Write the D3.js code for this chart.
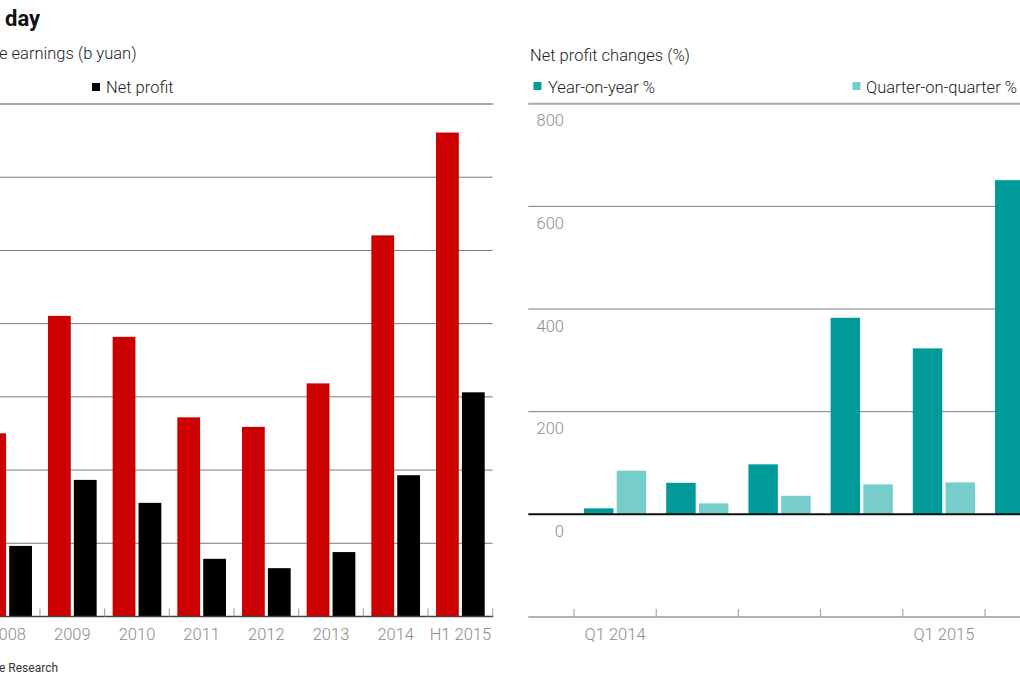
<!DOCTYPE html>
<html>
<head>
<meta charset="utf-8">
<script src="https://cdn.jsdelivr.net/npm/d3@7/dist/d3.min.js"></script>
<style>
  html, body { margin: 0; padding: 0; background: #fff; }
  svg { display: block; font-family: Roboto, "Liberation Sans", sans-serif; }
</style>
</head>
<body>
<svg id="chart" width="1020" height="680"></svg>
<script>
// ---- Data ----
const years = ["2008", "2009", "2010", "2011", "2012", "2013", "2014", "H1 2015"];
const revenue = [125.1, 205.3, 191.0, 136.0, 129.5, 159.2, 260.3, 330.5];
const netProfit = [48.2, 93.3, 77.6, 39.4, 33.0, 44.0, 96.5, 153.1];
const leftTicks = [0, 50, 100, 150, 200, 250, 300, 350];

const quarters = ["Q1 2014", "Q2 2014", "Q3 2014", "Q4 2014", "Q1 2015", "Q2 2015"];
const quarterLabels = ["Q1 2014", "", "", "", "Q1 2015", ""];
const yoy = [11.7, 61.5, 97.4, 382.9, 323.3, 651.0];
const qoq = [85.0, 21.4, 36.2, 58.4, 62.3, 100.0];
const rightTicks = [0, 200, 400, 600, 800];

const svg = d3.select("#chart");
const LABEL = "#8c8c8c";

// ---- Titles ----
svg.append("text").attr("x", 5).attr("y", 26)
  .attr("font-size", 22).attr("font-weight", 700).attr("fill", "#111").text("day");
svg.append("text").attr("x", -1).attr("y", 59)
  .attr("font-size", 16.5).attr("font-weight", 300).attr("fill", "#222").text("e earnings (b yuan)");
svg.append("text").attr("x", 530).attr("y", 61)
  .attr("font-size", 16.5).attr("font-weight", 300).attr("fill", "#222").text("Net profit changes (%)");
svg.append("text").attr("x", -1).attr("y", 672)
  .attr("font-size", 12).attr("fill", "#333").text("e Research");

// ---- Left chart ----
const xL = d3.scaleBand().domain(years).range([-24.7, 492.7]).paddingInner(0).paddingOuter(0);
const yL = d3.scaleLinear().domain([0, 350]).range([616.5, 104]);
const inner = d3.scaleBand().domain(["rev", "np"]).range([8, xL.bandwidth() - 8]).paddingInner(0.12);

const gL = svg.append("g");
gL.selectAll("line.grid").data(leftTicks.filter(t => t > 0 && t < 350)).join("line")
  .attr("x1", 0).attr("x2", 492.7)
  .attr("y1", d => yL(d)).attr("y2", d => yL(d))
  .attr("stroke", "#7a7a7a").attr("stroke-width", 1);
gL.append("line").attr("x1", 0).attr("x2", 493.3)
  .attr("y1", yL(350)).attr("y2", yL(350))
  .attr("stroke", "#a8a8a8").attr("stroke-width", 2);

gL.selectAll("rect.rev").data(years).join("rect")
  .attr("x", (d) => xL(d) + inner("rev"))
  .attr("width", inner.bandwidth())
  .attr("y", (d, i) => yL(revenue[i]))
  .attr("height", (d, i) => yL(0) - yL(revenue[i]))
  .attr("fill", "#cc0000");
gL.selectAll("rect.np").data(years).join("rect")
  .attr("x", (d) => xL(d) + inner("np"))
  .attr("width", inner.bandwidth())
  .attr("y", (d, i) => yL(netProfit[i]))
  .attr("height", (d, i) => yL(0) - yL(netProfit[i]))
  .attr("fill", "#000");

const axL = d3.axisBottom(xL).tickSize(0).tickPadding(0);
const gAxL = gL.append("g").attr("transform", `translate(0,${yL(0)})`).call(axL);
gAxL.select(".domain").remove();
gAxL.selectAll("text").attr("font-size", 16.5).attr("font-weight", 300).attr("fill", LABEL)
  .attr("font-family", "Roboto, sans-serif").attr("dy", 0).attr("y", 23);
gL.append("line").attr("x1", -30).attr("x2", 493.3)
  .attr("y1", yL(0)).attr("y2", yL(0)).attr("stroke", "#444").attr("stroke-width", 1.5);
gL.selectAll("line.btick").data(years.slice(1).concat(["__end"])).join("line")
  .attr("x1", d => d === "__end" ? 492.7 : xL(d))
  .attr("x2", d => d === "__end" ? 492.7 : xL(d))
  .attr("y1", yL(0)).attr("y2", yL(0) - 8)
  .attr("stroke", "#999").attr("stroke-width", 1);

gL.append("rect").attr("x", 92).attr("y", 83).attr("width", 8).attr("height", 8).attr("fill", "#000");
gL.append("text").attr("x", 106).attr("y", 92.5).attr("font-size", 16.5).attr("font-weight", 300)
  .attr("fill", "#222").text("Net profit");

// ---- Right chart ----
const bw = 82.2;
const xR = d3.scaleBand().domain(quarters).range([574, 574 + bw * quarters.length]);
const yR = d3.scaleLinear().domain([-200, 800]).range([617, 103.7]);
const innerR = d3.scaleBand().domain(["yoy", "qoq"]).range([10, bw - 10]).paddingInner(0.1);

const gR = svg.append("g");
gR.selectAll("line.grid").data([200, 400, 600]).join("line")
  .attr("x1", 528.3).attr("x2", 1020)
  .attr("y1", d => yR(d)).attr("y2", d => yR(d))
  .attr("stroke", "#7a7a7a").attr("stroke-width", 1);
gR.append("line").attr("x1", 528.3).attr("x2", 1020)
  .attr("y1", yR(800)).attr("y2", yR(800))
  .attr("stroke", "#a8a8a8").attr("stroke-width", 2);

const ayR = d3.axisLeft(yR).tickValues(rightTicks).tickSize(0).tickPadding(0);
const gAyR = gR.append("g").attr("transform", "translate(564,0)").call(ayR);
gAyR.select(".domain").remove();
gAyR.selectAll("text").attr("font-size", 16.5).attr("font-weight", 300).attr("fill", LABEL)
  .attr("font-family", "Roboto, sans-serif").attr("x", 0).attr("dy", 22);

gR.selectAll("rect.yoy").data(quarters).join("rect")
  .attr("x", d => xR(d) + innerR("yoy"))
  .attr("width", innerR.bandwidth())
  .attr("y", (d, i) => yR(yoy[i]))
  .attr("height", (d, i) => yR(0) - yR(yoy[i]))
  .attr("fill", "#009a98");
gR.selectAll("rect.qoq").data(quarters).join("rect")
  .attr("x", d => xR(d) + innerR("qoq"))
  .attr("width", innerR.bandwidth())
  .attr("y", (d, i) => yR(qoq[i]))
  .attr("height", (d, i) => yR(0) - yR(qoq[i]))
  .attr("fill", "#76cdcb");

gR.append("line").attr("x1", 528.3).attr("x2", 1020)
  .attr("y1", yR(0)).attr("y2", yR(0)).attr("stroke", "#111").attr("stroke-width", 2);

const axR = d3.axisBottom(xR).tickSize(0).tickPadding(0).tickFormat((d, i) => quarterLabels[i]);
const gAxR = gR.append("g").attr("transform", `translate(0,${yR(-200)})`).call(axR);
gAxR.select(".domain").remove();
gAxR.selectAll("text").attr("font-size", 16.5).attr("font-weight", 300).attr("fill", LABEL)
  .attr("font-family", "Roboto, sans-serif").attr("dy", 0).attr("y", 22.5);
gR.append("line").attr("x1", 528.3).attr("x2", 1020)
  .attr("y1", yR(-200)).attr("y2", yR(-200)).attr("stroke", "#999").attr("stroke-width", 1.5);
gR.selectAll("line.btick").data(quarters).join("line")
  .attr("x1", d => xR(d)).attr("x2", d => xR(d))
  .attr("y1", yR(-200)).attr("y2", yR(-200) - 8)
  .attr("stroke", "#999").attr("stroke-width", 1);

gR.append("rect").attr("x", 533.5).attr("y", 82).attr("width", 8).attr("height", 8).attr("fill", "#009a98");
gR.append("text").attr("x", 548).attr("y", 92.5).attr("font-size", 16.5).attr("font-weight", 300)
  .attr("fill", "#222").text("Year-on-year %");
gR.append("rect").attr("x", 852.5).attr("y", 82).attr("width", 8).attr("height", 8).attr("fill", "#76cdcb");
gR.append("text").attr("x", 866).attr("y", 92.5).attr("font-size", 16.5).attr("font-weight", 300)
  .attr("fill", "#222").text("Quarter-on-quarter %");
</script>
</body>
</html>
